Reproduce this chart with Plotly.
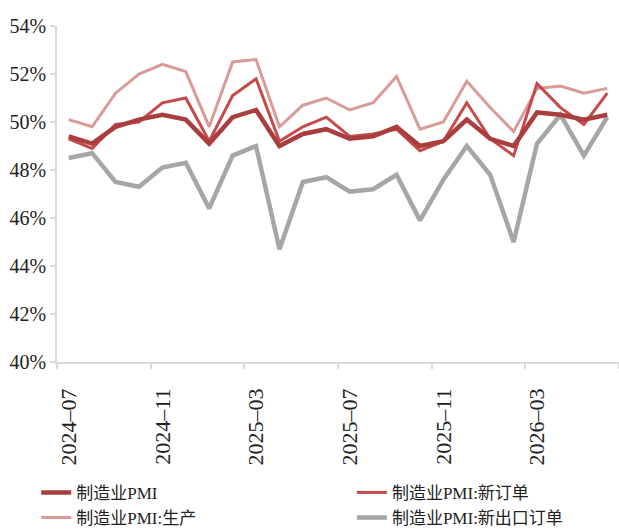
import plotly.graph_objects as go

months = [
    "2024–07", "2024–08", "2024–09", "2024–10", "2024–11", "2024–12",
    "2025–01", "2025–02", "2025–03", "2025–04", "2025–05", "2025–06",
    "2025–07", "2025–08", "2025–09", "2025–10", "2025–11", "2025–12",
    "2026–01", "2026–02", "2026–03", "2026–04", "2026–05", "2026–06",
]
pmi = [49.4, 49.1, 49.8, 50.1, 50.3, 50.1, 49.1, 50.2, 50.5, 49.0, 49.5, 49.7,
       49.3, 49.4, 49.8, 49.0, 49.2, 50.1, 49.3, 49.0, 50.4, 50.3, 50.1, 50.3]
new_orders = [49.3, 48.9, 49.9, 50.0, 50.8, 51.0, 49.2, 51.1, 51.8, 49.2, 49.8, 50.2,
              49.4, 49.5, 49.7, 48.8, 49.2, 50.8, 49.3, 48.6, 51.6, 50.6, 49.9, 51.2]
production = [50.1, 49.8, 51.2, 52.0, 52.4, 52.1, 49.8, 52.5, 52.6, 49.8, 50.7, 51.0,
              50.5, 50.8, 51.9, 49.7, 50.0, 51.7, 50.6, 49.6, 51.4, 51.5, 51.2, 51.4]
new_export = [48.5, 48.7, 47.5, 47.3, 48.1, 48.3, 46.4, 48.6, 49.0, 44.7, 47.5, 47.7,
              47.1, 47.2, 47.8, 45.9, 47.6, 49.0, 47.8, 45.0, 49.1, 50.3, 48.6, 50.2]

names = ["制造业PMI", "制造业PMI:新订单", "制造业PMI:生产", "制造业PMI:新出口订单"]

SERIF = "Liberation Serif, 'Times New Roman', 'Noto Sans CJK SC', serif"
AXIS = "#D9D9D9"
TEXT = "#222222"

fig = go.Figure()
# drawing order: bottom to top
specs = [
    (names[3], new_export, "#A6A6A6", 4.5, "legend2", 2),
    (names[2], production, "#D99A98", 3, "legend", 2),
    (names[1], new_orders, "#C64A4A", 3, "legend2", 1),
    (names[0], pmi, "#AA3E3E", 4.5, "legend", 1),
]
for name, vals, color, width, leg, rank in specs:
    fig.add_trace(go.Scatter(
        x=months, y=vals, mode="lines", name=name,
        line=dict(color=color, width=width),
        legend=leg, legendrank=rank,
    ))

legend_common = dict(
    orientation="v", xref="container", yref="container",
    xanchor="left", yanchor="top", bgcolor="rgba(0,0,0,0)",
    font=dict(family=SERIF, size=17, color=TEXT),
    tracegroupgap=0, itemwidth=30,
)

fig.update_layout(
    width=619, height=530,
    margin=dict(l=57, r=0, t=26, b=168, autoexpand=False),
    plot_bgcolor="white", paper_bgcolor="white",
    showlegend=True,
    legend=dict(x=0.0585, y=0.104, **legend_common),
    legend2=dict(x=0.5685, y=0.104, **legend_common),
    xaxis=dict(
        type="category", range=[-0.5, 23.5], automargin=False,
        tickmode="linear", tick0=0, dtick=4, tickson="boundaries",
        ticks="outside", ticklen=5, tickcolor=AXIS, tickwidth=1.5,
        showline=True, linecolor=AXIS, linewidth=1.5,
        showgrid=False, zeroline=False,
        tickangle=-90, ticklabelstandoff=16,
        tickfont=dict(family=SERIF, size=22, color=TEXT),
    ),
    yaxis=dict(
        range=[40, 54], tickmode="linear", tick0=40, dtick=2, automargin=False,
        ticksuffix="%",
        ticks="outside", ticklen=5, tickcolor=AXIS, tickwidth=1.5,
        showline=True, linecolor=AXIS, linewidth=1.5,
        showgrid=False, zeroline=False,
        tickfont=dict(family=SERIF, size=20, color=TEXT),
    ),
)

fig.write_html(
    "out.html",
    config={"displayModeBar": False},
    post_script="document.body.style.margin='0';document.body.style.padding='0';",
)
